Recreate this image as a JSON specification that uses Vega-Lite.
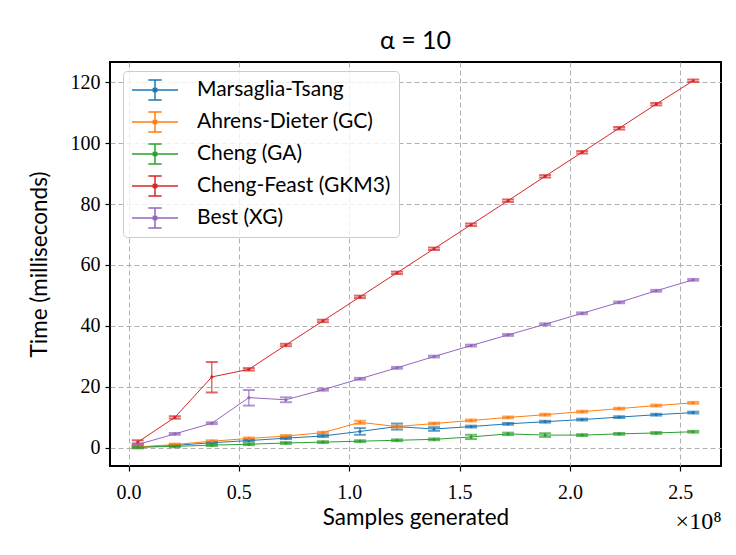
{
  "$schema": "https://vega.github.io/schema/vega-lite/v6.json",
  "width": 611,
  "height": 404,
  "autosize": {"type": "none"},
  "padding": {"left": 110, "top": 62, "right": 15, "bottom": 89},
  "background": "white",
  "title": {"text": "α = 10", "font": "Lato", "fontSize": 25, "fontWeight": "normal", "color": "#000", "anchor": "middle", "offset": 8},
  "config": {
    "view": {"stroke": "#000", "strokeWidth": 2},
    "axis": {
      "grid": true, "gridColor": "#b0b0b0", "gridDash": [5, 3], "gridWidth": 1,
      "domain": false, "tickColor": "#000", "tickSize": 5, "tickWidth": 1.2,
      "labelFont": "Liberation Serif", "labelFontSize": 20, "labelColor": "#000",
      "titleFont": "Lato", "titleFontSize": 22.5, "titleFontWeight": "normal", "titleColor": "#000"
    }
  },
  "data": {"values": [
    {"s": "Marsaglia-Tsang", "n": 4194304, "t": 0.1, "lo": -0.2, "hi": 0.4},
    {"s": "Marsaglia-Tsang", "n": 20971520, "t": 0.7, "lo": 0.4, "hi": 1.0},
    {"s": "Marsaglia-Tsang", "n": 37748736, "t": 1.6, "lo": 1.3, "hi": 1.9},
    {"s": "Marsaglia-Tsang", "n": 54525952, "t": 2.3, "lo": 2.0, "hi": 2.6},
    {"s": "Marsaglia-Tsang", "n": 71303168, "t": 3.1, "lo": 2.8, "hi": 3.4},
    {"s": "Marsaglia-Tsang", "n": 88080384, "t": 3.8, "lo": 3.5, "hi": 4.1},
    {"s": "Marsaglia-Tsang", "n": 104857600, "t": 5.3, "lo": 4.2, "hi": 6.4},
    {"s": "Marsaglia-Tsang", "n": 121634816, "t": 6.9, "lo": 5.9, "hi": 7.9},
    {"s": "Marsaglia-Tsang", "n": 138412032, "t": 6.1, "lo": 5.5, "hi": 6.7},
    {"s": "Marsaglia-Tsang", "n": 155189248, "t": 6.9, "lo": 6.6, "hi": 7.2},
    {"s": "Marsaglia-Tsang", "n": 171966464, "t": 7.8, "lo": 7.5, "hi": 8.1},
    {"s": "Marsaglia-Tsang", "n": 188743680, "t": 8.5, "lo": 8.2, "hi": 8.8},
    {"s": "Marsaglia-Tsang", "n": 205520896, "t": 9.2, "lo": 8.9, "hi": 9.5},
    {"s": "Marsaglia-Tsang", "n": 222298112, "t": 10.0, "lo": 9.7, "hi": 10.3},
    {"s": "Marsaglia-Tsang", "n": 239075328, "t": 10.8, "lo": 10.5, "hi": 11.1},
    {"s": "Marsaglia-Tsang", "n": 255852544, "t": 11.5, "lo": 11.2, "hi": 11.8},
    {"s": "Ahrens-Dieter (GC)", "n": 4194304, "t": 0.2, "lo": -0.1, "hi": 0.5},
    {"s": "Ahrens-Dieter (GC)", "n": 20971520, "t": 1.0, "lo": 0.7, "hi": 1.3},
    {"s": "Ahrens-Dieter (GC)", "n": 37748736, "t": 2.1, "lo": 1.8, "hi": 2.4},
    {"s": "Ahrens-Dieter (GC)", "n": 54525952, "t": 3.0, "lo": 2.7, "hi": 3.3},
    {"s": "Ahrens-Dieter (GC)", "n": 71303168, "t": 3.8, "lo": 3.5, "hi": 4.1},
    {"s": "Ahrens-Dieter (GC)", "n": 88080384, "t": 4.9, "lo": 4.6, "hi": 5.2},
    {"s": "Ahrens-Dieter (GC)", "n": 104857600, "t": 8.3, "lo": 7.8, "hi": 8.8},
    {"s": "Ahrens-Dieter (GC)", "n": 121634816, "t": 6.9, "lo": 6.6, "hi": 7.2},
    {"s": "Ahrens-Dieter (GC)", "n": 138412032, "t": 7.9, "lo": 7.6, "hi": 8.2},
    {"s": "Ahrens-Dieter (GC)", "n": 155189248, "t": 8.9, "lo": 8.6, "hi": 9.2},
    {"s": "Ahrens-Dieter (GC)", "n": 171966464, "t": 9.9, "lo": 9.6, "hi": 10.2},
    {"s": "Ahrens-Dieter (GC)", "n": 188743680, "t": 10.8, "lo": 10.5, "hi": 11.1},
    {"s": "Ahrens-Dieter (GC)", "n": 205520896, "t": 11.8, "lo": 11.5, "hi": 12.1},
    {"s": "Ahrens-Dieter (GC)", "n": 222298112, "t": 12.8, "lo": 12.5, "hi": 13.1},
    {"s": "Ahrens-Dieter (GC)", "n": 239075328, "t": 13.8, "lo": 13.5, "hi": 14.1},
    {"s": "Ahrens-Dieter (GC)", "n": 255852544, "t": 14.7, "lo": 14.4, "hi": 15.0},
    {"s": "Cheng (GA)", "n": 4194304, "t": 0.1, "lo": -0.2, "hi": 0.4},
    {"s": "Cheng (GA)", "n": 20971520, "t": 0.4, "lo": 0.1, "hi": 0.7},
    {"s": "Cheng (GA)", "n": 37748736, "t": 0.8, "lo": 0.5, "hi": 1.1},
    {"s": "Cheng (GA)", "n": 54525952, "t": 1.1, "lo": 0.8, "hi": 1.4},
    {"s": "Cheng (GA)", "n": 71303168, "t": 1.5, "lo": 1.2, "hi": 1.8},
    {"s": "Cheng (GA)", "n": 88080384, "t": 1.8, "lo": 1.5, "hi": 2.1},
    {"s": "Cheng (GA)", "n": 104857600, "t": 2.1, "lo": 1.8, "hi": 2.4},
    {"s": "Cheng (GA)", "n": 121634816, "t": 2.4, "lo": 2.1, "hi": 2.7},
    {"s": "Cheng (GA)", "n": 138412032, "t": 2.7, "lo": 2.4, "hi": 3.0},
    {"s": "Cheng (GA)", "n": 155189248, "t": 3.5, "lo": 2.8, "hi": 4.2},
    {"s": "Cheng (GA)", "n": 171966464, "t": 4.5, "lo": 4.1, "hi": 4.9},
    {"s": "Cheng (GA)", "n": 188743680, "t": 4.1, "lo": 3.5, "hi": 4.7},
    {"s": "Cheng (GA)", "n": 205520896, "t": 4.1, "lo": 3.8, "hi": 4.4},
    {"s": "Cheng (GA)", "n": 222298112, "t": 4.5, "lo": 4.2, "hi": 4.8},
    {"s": "Cheng (GA)", "n": 239075328, "t": 4.8, "lo": 4.5, "hi": 5.1},
    {"s": "Cheng (GA)", "n": 255852544, "t": 5.2, "lo": 4.9, "hi": 5.5},
    {"s": "Cheng-Feast (GKM3)", "n": 4194304, "t": 1.8, "lo": 1.2, "hi": 2.4},
    {"s": "Cheng-Feast (GKM3)", "n": 20971520, "t": 9.9, "lo": 9.5, "hi": 10.3},
    {"s": "Cheng-Feast (GKM3)", "n": 37748736, "t": 23.2, "lo": 18.1, "hi": 28.1},
    {"s": "Cheng-Feast (GKM3)", "n": 54525952, "t": 25.7, "lo": 25.3, "hi": 26.1},
    {"s": "Cheng-Feast (GKM3)", "n": 71303168, "t": 33.7, "lo": 33.3, "hi": 34.1},
    {"s": "Cheng-Feast (GKM3)", "n": 88080384, "t": 41.6, "lo": 41.2, "hi": 42.0},
    {"s": "Cheng-Feast (GKM3)", "n": 104857600, "t": 49.5, "lo": 49.1, "hi": 49.9},
    {"s": "Cheng-Feast (GKM3)", "n": 121634816, "t": 57.4, "lo": 57.0, "hi": 57.8},
    {"s": "Cheng-Feast (GKM3)", "n": 138412032, "t": 65.3, "lo": 64.9, "hi": 65.7},
    {"s": "Cheng-Feast (GKM3)", "n": 155189248, "t": 73.2, "lo": 72.8, "hi": 73.6},
    {"s": "Cheng-Feast (GKM3)", "n": 171966464, "t": 81.1, "lo": 80.7, "hi": 81.5},
    {"s": "Cheng-Feast (GKM3)", "n": 188743680, "t": 89.1, "lo": 88.7, "hi": 89.5},
    {"s": "Cheng-Feast (GKM3)", "n": 205520896, "t": 97.0, "lo": 96.6, "hi": 97.4},
    {"s": "Cheng-Feast (GKM3)", "n": 222298112, "t": 104.9, "lo": 104.5, "hi": 105.3},
    {"s": "Cheng-Feast (GKM3)", "n": 239075328, "t": 112.8, "lo": 112.4, "hi": 113.2},
    {"s": "Cheng-Feast (GKM3)", "n": 255852544, "t": 120.5, "lo": 120.1, "hi": 120.9},
    {"s": "Best (XG)", "n": 4194304, "t": 1.0, "lo": 0.6, "hi": 1.4},
    {"s": "Best (XG)", "n": 20971520, "t": 4.5, "lo": 4.2, "hi": 4.8},
    {"s": "Best (XG)", "n": 37748736, "t": 8.0, "lo": 7.7, "hi": 8.3},
    {"s": "Best (XG)", "n": 54525952, "t": 16.4, "lo": 13.8, "hi": 18.9},
    {"s": "Best (XG)", "n": 71303168, "t": 15.7, "lo": 14.9, "hi": 16.5},
    {"s": "Best (XG)", "n": 88080384, "t": 19.0, "lo": 18.7, "hi": 19.3},
    {"s": "Best (XG)", "n": 104857600, "t": 22.6, "lo": 22.3, "hi": 22.9},
    {"s": "Best (XG)", "n": 121634816, "t": 26.2, "lo": 25.9, "hi": 26.5},
    {"s": "Best (XG)", "n": 138412032, "t": 29.9, "lo": 29.6, "hi": 30.2},
    {"s": "Best (XG)", "n": 155189248, "t": 33.5, "lo": 33.2, "hi": 33.8},
    {"s": "Best (XG)", "n": 171966464, "t": 37.0, "lo": 36.7, "hi": 37.3},
    {"s": "Best (XG)", "n": 188743680, "t": 40.5, "lo": 40.2, "hi": 40.8},
    {"s": "Best (XG)", "n": 205520896, "t": 44.1, "lo": 43.8, "hi": 44.4},
    {"s": "Best (XG)", "n": 222298112, "t": 47.7, "lo": 47.4, "hi": 48.0},
    {"s": "Best (XG)", "n": 239075328, "t": 51.5, "lo": 51.2, "hi": 51.8},
    {"s": "Best (XG)", "n": 255852544, "t": 55.1, "lo": 54.8, "hi": 55.4}
  ]},
  "encoding": {
    "color": {
      "field": "s", "type": "nominal",
      "sort": ["Marsaglia-Tsang", "Ahrens-Dieter (GC)", "Cheng (GA)", "Cheng-Feast (GKM3)", "Best (XG)"],
      "scale": {
        "domain": ["Marsaglia-Tsang", "Ahrens-Dieter (GC)", "Cheng (GA)", "Cheng-Feast (GKM3)", "Best (XG)"],
        "range": ["#1f77b4", "#ff7f0e", "#2ca02c", "#d62728", "#9467bd"]
      },
      "legend": {
        "title": null, "orient": "none", "legendX": 13, "legendY": 9,
        "padding": 8, "fillColor": "rgba(255,255,255,0.8)", "strokeColor": "#cccccc", "cornerRadius": 4,
        "symbolType": "M-1,0L1,0M0,-0.44L0,0.44M-0.29,-0.44L0.29,-0.44M-0.29,0.44L0.29,0.44M-0.07,-0.07L0.07,-0.07L0.07,0.07L-0.07,0.07Z",
        "symbolSize": 2116, "symbolStrokeWidth": 1.5, "symbolFillColor": "transparent", "symbolOpacity": 1,
        "clipHeight": 22, "rowPadding": 10, "labelOffset": 18,
        "labelFont": "Lato", "labelFontSize": 21, "labelColor": "#000", "labelLimit": 400
      }
    }
  },
  "resolve": {"axis": {"x": "independent"}},
  "layer": [
    {
      "mark": {"type": "rule", "strokeWidth": 1},
      "encoding": {
        "x": {"field": "n", "type": "quantitative",
          "scale": {"domain": [-8388608, 268435456], "nice": false, "zero": false},
          "axis": {"values": [0, 50000000, 100000000, 150000000, 200000000, 250000000],
            "labelExpr": "format(datum.value / 100000000, '.1f')", "labelPadding": 11,
            "title": "Samples generated", "titlePadding": 4}},
        "y": {"field": "lo", "type": "quantitative",
          "scale": {"domain": [-6.05, 126.65], "nice": false, "zero": false},
          "axis": {"values": [0, 20, 40, 60, 80, 100, 120], "labelPadding": 5,
            "title": "Time (milliseconds)", "titlePadding": 19}},
        "y2": {"field": "hi"}
      }
    },
    {
      "mark": {"type": "tick", "orient": "horizontal", "size": 12, "thickness": 2},
      "encoding": {
        "x": {"field": "n", "type": "quantitative", "axis": null},
        "y": {"field": "lo", "type": "quantitative"}
      }
    },
    {
      "mark": {"type": "tick", "orient": "horizontal", "size": 12, "thickness": 2},
      "encoding": {
        "x": {"field": "n", "type": "quantitative", "axis": null},
        "y": {"field": "hi", "type": "quantitative"}
      }
    },
    {
      "mark": {"type": "line", "strokeWidth": 1},
      "encoding": {
        "x": {"field": "n", "type": "quantitative",
          "axis": {"orient": "bottom", "title": "×10⁸", "labels": false, "ticks": false, "grid": false, "domain": false,
            "titleFont": "Liberation Serif", "titleFontSize": 24, "titleAnchor": "end", "titleAlign": "right",
            "titleX": 611, "titleY": 43}},
        "y": {"field": "t", "type": "quantitative"}
      }
    },
    {
      "mark": {"type": "point", "filled": true, "size": 10, "opacity": 1},
      "encoding": {
        "x": {"field": "n", "type": "quantitative", "axis": null},
        "y": {"field": "t", "type": "quantitative"}
      }
    }
  ]
}
